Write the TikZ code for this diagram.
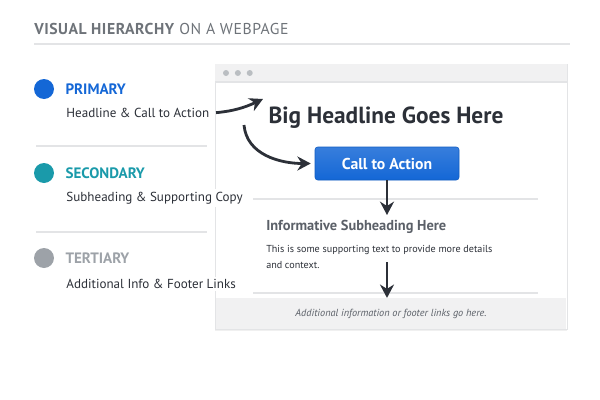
\documentclass[tikz,border=0pt]{standalone}
\usepackage{fontspec}
\setmainfont{PT Sans}
\usetikzlibrary{arrows.meta, positioning, shadows}
\definecolor{primblue}{HTML}{1467D6}
\definecolor{secteal}{HTML}{1A9AAA}
\definecolor{tertgray}{HTML}{9DA2A8}
\definecolor{titlegray}{HTML}{6E7379}
\definecolor{inkdark}{HTML}{2C3038}
\definecolor{subgray}{HTML}{5B6068}
\definecolor{barfill}{HTML}{F1F1F2}
\definecolor{rulegray}{HTML}{E3E4E6}
\tikzset{
	levelname/.style={anchor=west, inner sep=0pt, font=\fontsize{11.3}{13}\selectfont\bfseries},
	leveldesc/.style={anchor=west, inner sep=2pt, fill=white, text=inkdark, font=\fontsize{9.8}{12}\selectfont},
	leveldot/.style={circle, minimum size=15pt, inner sep=0pt},
	pagetext/.style={anchor=west, inner sep=0pt, align=left},
	ctabutton/.style={rectangle, rounded corners=2pt, minimum width=108pt, minimum height=24.75pt, top color=primblue!85!white, bottom color=primblue, draw=primblue!90!black, text=white, font=\fontsize{11.8}{13}\selectfont\bfseries},
	arrow/.style={line width=2.1pt, draw=inkdark, -{Stealth[length=10pt, width=10.5pt]}},
	rule/.style={draw=rulegray, line width=0.8pt},
	windowdot/.style={circle, fill=tertgray!70, minimum size=4.5pt, inner sep=0pt}
}
\begin{document}
\begin{tikzpicture}[x=0.75pt, y=-0.75pt]
		\useasboundingbox (0,0) rectangle (600,400);
		% Titulo
		\node (title) [anchor=west, inner sep=0pt, text=titlegray, font=\fontsize{11.8}{14}\selectfont\addfontfeatures{LetterSpace=3.4}] at (34,29) {\textbf{VISUAL HIERARCHY} ON A WEBPAGE};
		\draw [rule] (34,44) -- (570,44);
		
		% Ventana del navegador
		\node (window) [draw=rulegray, fill=white, minimum width=264pt, minimum height=198.75pt, drop shadow={opacity=0.12, shadow xshift=0pt, shadow yshift=-1.5pt}] at (391,196.5) {};
		\fill [barfill] (215,64) rectangle (567,82);
		\draw [rule] (215,82) -- (567,82);
		\node (dota) [windowdot] at (226,73) {};
		\node (dotb) [windowdot, right=4pt of dota] {};
		\node (dotc) [windowdot, right=4pt of dotb] {};
		
		% Contenido de la pagina
		\node (headline) [inner sep=0pt, text=inkdark, font=\fontsize{17.5}{20}\selectfont\bfseries] at (386,118) {Big Headline Goes Here};
		\node (cta) [ctabutton] at (387,163.5) {Call to Action};
		\draw [rule] (253,199) -- (538,199);
		\node (subhead) [pagetext, text=subgray, font=\fontsize{10.8}{12}\selectfont\bfseries] at (266,227) {Informative Subheading Here};
		\node (support) [pagetext, text=inkdark, font=\fontsize{7.6}{11.5}\selectfont] at (266,257) {This is some supporting text to provide more details\\and context.};
		\draw [rule] (253,293) -- (538,293);
		\node (footer) [fill=barfill, minimum width=263pt, minimum height=23pt, inner sep=0pt, text=subgray, font=\fontsize{7.7}{10}\selectfont\itshape] at (391,313.5) {Additional information or footer links go here.};
		
		% Leyenda de niveles
		\node (primdot) [leveldot, fill=primblue] at (44,89) {};
		\node (primname) [levelname, text=primblue, right=8.25pt of primdot] {PRIMARY};
		\node (primdesc) [leveldesc] at (63.5,113) {Headline \& Call to Action};
		\draw [rule] (36,146) -- (207,146);
		\node (secdot) [leveldot, fill=secteal] at (44,173) {};
		\node (secname) [levelname, text=secteal, right=8.25pt of secdot] {SECONDARY};
		\node (secdesc) [leveldesc] at (63.5,198) {Subheading \& Supporting Copy};
		\draw [rule] (36,232) -- (207,232);
		\node (tertdot) [leveldot, fill=tertgray] at (44,258) {};
		\node (tertname) [levelname, text=tertgray, right=8.25pt of tertdot] {TERTIARY};
		\node (tertdesc) [leveldesc] at (63.5,284) {Additional Info \& Footer Links};
		
		% Flechas
		\coordinate (headtip) at (263,99);
		\coordinate (bendstart) at (244,125);
		\coordinate (linkstart) at (387,262);
		\draw [arrow, shorten <=3pt] (primdesc.east) to[out=5, in=205] (headtip);
		\draw [arrow] (bendstart) to[out=-85, in=180] ([xshift=-3pt]cta.west);
		\draw [arrow] (cta.south) -- (cta.south |- 0,215);
		\draw [arrow] (linkstart) -- (linkstart |- footer.north);
	\end{tikzpicture}
\end{document}
